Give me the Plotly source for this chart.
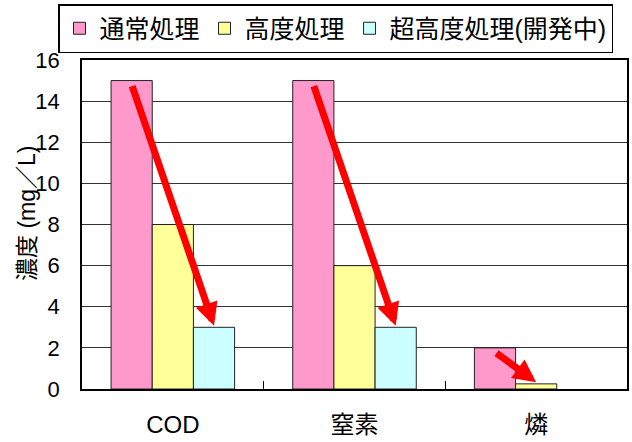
import plotly.graph_objects as go

categories = ["COD", "窒素", "燐"]
series_names = ["通常処理", "高度処理", "超高度処理(開発中)"]
normal = [15, 15, 2]
advanced = [8, 6, 0.25]
super_adv = [3, 3, None]
colors = ["#FF99CC", "#FFFF99", "#CCFFFF"]
y_title = "濃度 (mg／L)"
y_ticks = [0, 2, 4, 6, 8, 10, 12, 14, 16]

# arrows: (category index, from series index, to series index)
arrows = [(0, 0, 2), (1, 0, 2), (2, 0, 1)]

FONT = "Liberation Sans Narrow, Arial Narrow, Liberation Sans, Noto Sans CJK JP, sans-serif"

W, H = 632, 442
ML, MR, MT, MB = 82, 5, 60, 53
pw = W - ML - MR
ph = H - MT - MB

bargap = 0.32
fig = go.Figure()
all_series = [normal, advanced, super_adv]
for name, vals, col in zip(series_names, all_series, colors):
    fig.add_trace(go.Bar(
        x=categories, y=vals, name=name,
        marker=dict(color=col, line=dict(color="#222", width=1)),
    ))

bw = (1 - bargap) / 3
for ci, s_from, s_to in arrows:
    x0 = ci + (s_from - 1) * bw
    y0 = all_series[s_from][ci] - 0.2
    x1 = ci + (s_to - 1) * bw
    y1 = all_series[s_to][ci] + 0.08
    fig.add_annotation(
        x=x1, y=y1, ax=x0, ay=y0, xref="x", yref="y", axref="x", ayref="y",
        showarrow=True, arrowhead=2, arrowwidth=7, arrowsize=0.65,
        arrowcolor="#FF0000", text="",
    )

# y-axis title placed as rotated text
fig.add_annotation(
    text=y_title, textangle=-90, showarrow=False,
    xref="paper", yref="paper", x=(27 - ML) / pw, y=(H - MB - 214) / ph,
    xanchor="center", yanchor="middle",
    font=dict(family=FONT, size=23, color="black"),
)

fig.update_layout(
    width=W, height=H,
    margin=dict(l=ML, r=MR, t=MT, b=MB, autoexpand=False),
    barmode="group", bargap=bargap, bargroupgap=0,
    plot_bgcolor="white", paper_bgcolor="white",
    font=dict(family=FONT, color="black"),
    showlegend=True,
    legend=dict(
        orientation="h",
        x=(58 - ML) / pw, y=1 + (MT - 4) / ph, xanchor="left", yanchor="top",
        font=dict(family=FONT, size=25, color="black"),
        bordercolor="black", borderwidth=1.5, bgcolor="white",
        traceorder="normal",
    ),
    xaxis=dict(
        showline=True, linecolor="black", linewidth=1.5, mirror=True,
        ticks="inside", tickson="boundaries", ticklen=8, tickcolor="black",
        tickfont=dict(family=FONT, size=24, color="black"),
        ticklabelstandoff=13,
    ),
    yaxis=dict(
        range=[0, 16], tickvals=y_ticks,
        showline=True, linecolor="black", linewidth=1.5, mirror=True,
        showgrid=True, gridcolor="#333", gridwidth=1.2,
        ticks="", tickfont=dict(family=FONT, size=22, color="black"),
        ticklabelstandoff=16,
        zeroline=False,
    ),
)

fig.write_html("out.html", config={"displayModeBar": False},
               post_script="document.body.style.margin='0';")
